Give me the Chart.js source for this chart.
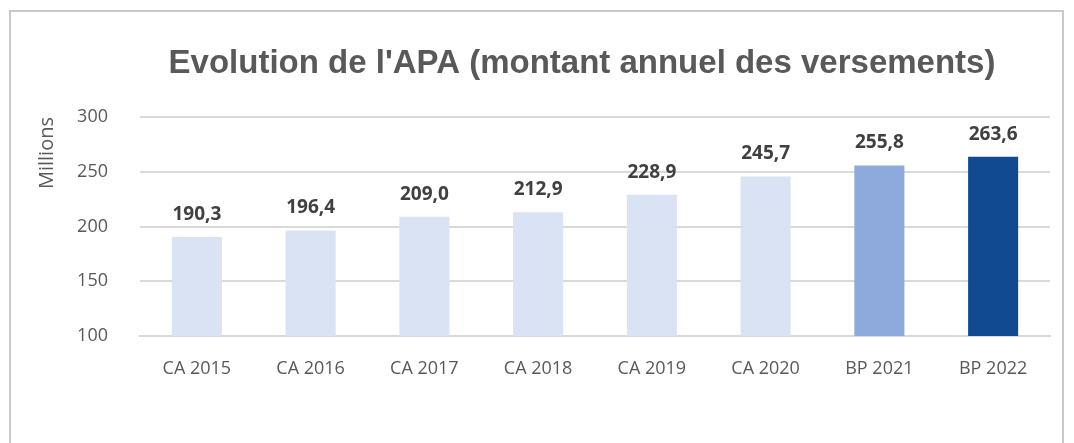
<!DOCTYPE html>
<html>
<head>
<meta charset="utf-8">
<script src="https://cdn.jsdelivr.net/npm/chart.js@4/dist/chart.umd.min.js"></script>
<style>
  html, body { margin: 0; padding: 0; background: #fff; }
  #cadre { position: absolute; left: 9px; top: 10px; width: 1055px; height: 460px; border: 2px solid #c9c9c9; box-sizing: border-box; }
  #zone { position: absolute; left: 0; top: 0; width: 1074px; height: 443px; }
</style>
</head>
<body>
<div id="cadre"></div>
<div id="zone"><canvas id="chart-apa"></canvas></div>
<script>
// Données : montant annuel des versements APA (en millions)
const annees = ["CA 2015", "CA 2016", "CA 2017", "CA 2018", "CA 2019", "CA 2020", "BP 2021", "BP 2022"];
const montants = [190.3, 196.4, 209.0, 212.9, 228.9, 245.7, 255.8, 263.6];
const couleurs = ["#DAE3F3", "#DAE3F3", "#DAE3F3", "#DAE3F3", "#DAE3F3", "#DAE3F3", "#8EA9DB", "#124A92"];
const graduations = [100, 150, 200, 250, 300];
const titre = "Evolution de l'APA (montant annuel des versements)";

const police = "'Open Sans', 'Lato', sans-serif";

// Titre dessiné à la main : dans l'original il est décalé vers la droite
const titrePlugin = {
  id: "titrePlugin",
  afterDraw(chart) {
    const ctx = chart.ctx;
    ctx.save();
    ctx.font = "bold 33px 'Liberation Sans', Arial, sans-serif";
    ctx.fillStyle = "#595959";
    ctx.textAlign = "center";
    ctx.textBaseline = "alphabetic";
    ctx.fillText(titre, 582, 73);
    ctx.restore();
  }
};

// Étiquettes de valeur au-dessus des barres (format français avec virgule)
const etiquettes = {
  id: "etiquettes",
  afterDatasetsDraw(chart) {
    const ctx = chart.ctx;
    const meta = chart.getDatasetMeta(0);
    ctx.save();
    ctx.font = "bold 19px " + police;
    ctx.fillStyle = "#404040";
    ctx.textAlign = "center";
    ctx.textBaseline = "alphabetic";
    meta.data.forEach((bar, i) => {
      const txt = montants[i].toFixed(1).replace(".", ",");
      ctx.fillText(txt, bar.x, bar.y - 17);
    });
    ctx.restore();
  }
};

new Chart(document.getElementById("chart-apa"), {
  type: "bar",
  data: {
    labels: annees,
    datasets: [{
      data: montants,
      backgroundColor: couleurs,
      borderWidth: 0,
      barPercentage: 0.44,
      categoryPercentage: 1
    }]
  },
  options: {
    responsive: true,
    maintainAspectRatio: false,
    animation: false,
    layout: { padding: { left: 20, right: 24, top: 117, bottom: 0 } },
    plugins: {
      legend: { display: false },
      tooltip: { enabled: false },
      title: { display: false }
    },
    scales: {
      x: {
        grid: { display: false },
        border: { color: "#d9d9d9", width: 2 },
        ticks: { color: "#595959", font: { family: police, size: 18 }, padding: 14 },
        afterFit(scale) { scale.height = 107; }
      },
      y: {
        min: 100,
        max: 300,
        afterBuildTicks(scale) { scale.ticks = graduations.map(v => ({ value: v })); },
        grid: { color: "#d9d9d9", lineWidth: 2, drawTicks: false },
        border: { display: false },
        ticks: { color: "#595959", font: { family: police, size: 18 }, padding: 32 },
        title: {
          display: true,
          text: "Millions",
          align: "end",
          color: "#595959",
          font: { family: police, size: 20 },
          padding: { top: 15, bottom: 0 }
        },
        afterFit(scale) { scale.width = 120; }
      }
    }
  },
  plugins: [etiquettes, titrePlugin]
});
</script>
</body>
</html>
